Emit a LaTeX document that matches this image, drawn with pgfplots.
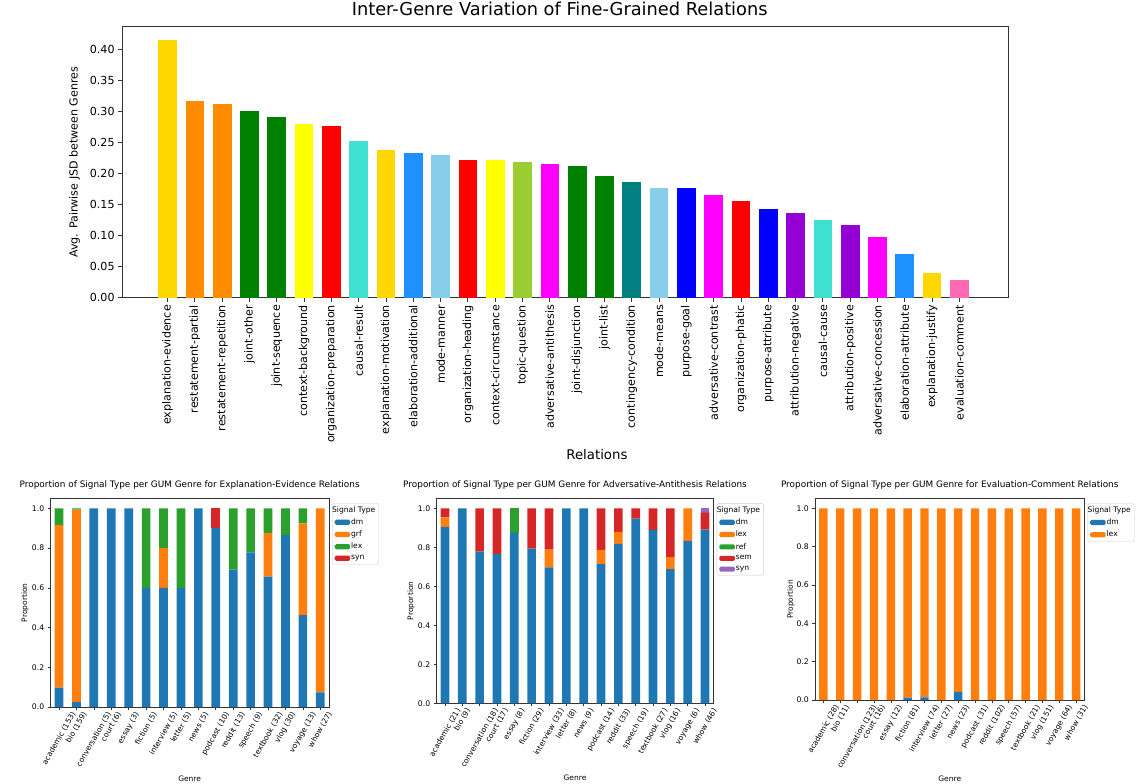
\documentclass[border=0pt]{standalone}
\usepackage{pgfplots}
\pgfplotsset{compat=1.18}
\usepackage{pgfplotstable}
\usepackage{graphicx}
\usepackage{fontspec}
\setmainfont{DejaVu Sans}

% bar colours of the relation chart
\definecolor{cGold}{RGB}{255,215,0}
\definecolor{cDarkOrange}{RGB}{255,140,0}
\definecolor{cGreen}{RGB}{0,128,0}
\definecolor{cYellow}{RGB}{255,255,0}
\definecolor{cRed}{RGB}{255,0,0}
\definecolor{cTurquoise}{RGB}{64,224,208}
\definecolor{cDodger}{RGB}{30,144,255}
\definecolor{cSky}{RGB}{135,206,235}
\definecolor{cYellowGreen}{RGB}{154,205,50}
\definecolor{cMagenta}{RGB}{255,0,255}
\definecolor{cTeal}{RGB}{0,128,128}
\definecolor{cBlue}{RGB}{0,0,255}
\definecolor{cViolet}{RGB}{148,0,211}
\definecolor{cHotPink}{RGB}{255,105,180}
% signal type colours
\definecolor{tabblue}{RGB}{31,119,180}
\definecolor{taborange}{RGB}{255,127,14}
\definecolor{tabgreen}{RGB}{44,160,44}
\definecolor{tabred}{RGB}{214,39,40}
\definecolor{tabpurple}{RGB}{148,103,189}

\newcommand{\rl}[1]{\rotatebox{60}{#1}}
\newcommand{\fs}[1]{\fontsize{#1}{#1}\selectfont}

% Explanation-Evidence: dm grf lex syn
\pgfplotstableread{
idx dm    grf   lex   syn
0   0.098 0.817 0.085 0
1   0.025 0.969 0.006 0
2   1     0     0     0
3   1     0     0     0
4   1     0     0     0
5   0.6   0     0.4   0
6   0.6   0.2   0.2   0
7   0.6   0     0.4   0
8   1     0     0     0
9   0.9   0     0     0.1
10  0.692 0     0.308 0
11  0.778 0     0.222 0
12  0.656 0.219 0.125 0
13  0.867 0     0.133 0
14  0.462 0.462 0.076 0
15  0.074 0.926 0     0
}\tabEvidence

% Adversative-Antithesis: dm lex ref sem syn
\pgfplotstableread{
idx dm    lex   ref   sem   syn
0   0.905 0.048 0     0.047 0
1   1     0     0     0     0
2   0.778 0     0     0.222 0
3   0.765 0     0     0.235 0
4   0.875 0     0.125 0     0
5   0.793 0     0     0.207 0
6   0.697 0.091 0     0.212 0
7   1     0     0     0     0
8   1     0     0     0     0
9   0.714 0.072 0     0.214 0
10  0.818 0.061 0     0.121 0
11  0.947 0     0     0.053 0
12  0.889 0     0     0.111 0
13  0.688 0.062 0     0.250 0
14  0.833 0.167 0     0     0
15  0.891 0     0     0.087 0.022
}\tabAntithesis

% Evaluation-Comment: dm lex
\pgfplotstableread{
idx dm    lex
0   0     1
1   0     1
2   0     1
3   0     1
4   0     1
5   0.012 0.988
6   0.014 0.986
7   0     1
8   0.043 0.957
9   0     1
10  0     1
11  0     1
12  0     1
13  0     1
14  0     1
15  0     1
}\tabComment

\pgfplotsset{
  sigpatch/.style={legend image code/.code={\fill[##1] (0pt,-2.6pt) rectangle (15.5pt,2.6pt);}},
  sigaxis/.style={
    scale only axis, anchor=south west,
    ybar stacked, xmin=-0.5, xmax=15.5, ymin=0, ymax=1.05,
    axis line style={black!80, line width=0.6pt},
    tick pos=left, tick align=outside, major tick length=2.6pt,
    tick style={black!80, line width=0.6pt},
    xtick={0,...,15},
    x tick label style={anchor=north, font=\fs{7.5}, inner sep=1.5pt},
    ytick={0,0.2,0.4,0.6,0.8,1},
    yticklabel={\pgfmathprintnumber[fixed,fixed zerofill,precision=1,assume math mode=true]{\tick}},
    y tick label style={font=\fs{7.7}},
    title style={anchor=center, font=\fs{8.9}},
    xlabel={Genre}, ylabel={Proportion},
    xlabel style={anchor=center, font=\fs{7.5}},
    ylabel style={anchor=center, font=\fs{7.5}},
    every axis plot/.append style={draw=none, sigpatch},
    legend style={at={(1,1)}, anchor=north west, xshift=3pt, yshift=-4.6pt,
      font=\fs{7.6}, draw=black!20, rounded corners=1.5pt, fill=white,
      inner xsep=2.5pt, inner ysep=2.2pt, row sep=3.2pt,
      nodes={inner sep=0.9pt}},
    legend cell align=left,
  },
}

\begin{document}
\begin{tikzpicture}
\path[use as bounding box] (0pt,0pt) rectangle (1138pt,-784pt);

% ---------------- average pairwise JSD per relation ----------------
\begin{axis}[
  at={(122pt,-297.7pt)}, anchor=south west,
  scale only axis, width=886pt, height=271pt,
  xmin=-1.67, xmax=30.78, ymin=0, ymax=0.4358,
  axis line style={black!80, line width=0.9pt},
  tick pos=left, tick align=outside, major tick length=3.9pt,
  tick style={black!80, line width=0.9pt},
  xtick={0,...,29},
  xticklabels={explanation-evidence, restatement-partial, restatement-repetition,
    joint-other, joint-sequence, context-background, organization-preparation,
    causal-result, explanation-motivation, elaboration-additional, mode-manner,
    organization-heading, context-circumstance, topic-question,
    adversative-antithesis, joint-disjunction, joint-list, contingency-condition,
    mode-means, purpose-goal, adversative-contrast, organization-phatic,
    purpose-attribute, attribution-negative, causal-cause, attribution-positive,
    adversative-concession, elaboration-attribute, explanation-justify,
    evaluation-comment},
  x tick label style={rotate=90, anchor=east, font=\fs{11.1}},
  ytick={0,0.05,0.1,0.15,0.2,0.25,0.3,0.35,0.4},
  yticklabel={\pgfmathprintnumber[fixed,fixed zerofill,precision=2,assume math mode=true]{\tick}},
  y tick label style={font=\fs{11.1}},
  title={Inter-Genre Variation of Fine-Grained Relations},
  title style={at={(axis description cs:0.494,1.043)}, anchor=center, font=\fs{17.8}},
  xlabel={Relations},
  xlabel style={at={(axis description cs:0.536,-0.580)}, anchor=center, font=\fs{13.3}},
  ylabel={Avg. Pairwise JSD between Genres},
  ylabel style={at={(axis description cs:-0.0534,0.5)}, anchor=center, font=\fs{11.1}},
  every axis plot/.append style={ybar, bar width=18.7pt, bar shift=0pt, draw=none},
]
\addplot[fill=cGold]        coordinates {(0,0.415)};
\addplot[fill=cDarkOrange]  coordinates {(1,0.316)};
\addplot[fill=cDarkOrange]  coordinates {(2,0.312)};
\addplot[fill=cGreen]       coordinates {(3,0.300)};
\addplot[fill=cGreen]       coordinates {(4,0.290)};
\addplot[fill=cYellow]      coordinates {(5,0.279)};
\addplot[fill=cRed]         coordinates {(6,0.276)};
\addplot[fill=cTurquoise]   coordinates {(7,0.252)};
\addplot[fill=cGold]        coordinates {(8,0.238)};
\addplot[fill=cDodger]      coordinates {(9,0.232)};
\addplot[fill=cSky]         coordinates {(10,0.229)};
\addplot[fill=cRed]         coordinates {(11,0.222)};
\addplot[fill=cYellow]      coordinates {(12,0.222)};
\addplot[fill=cYellowGreen] coordinates {(13,0.218)};
\addplot[fill=cMagenta]     coordinates {(14,0.215)};
\addplot[fill=cGreen]       coordinates {(15,0.211)};
\addplot[fill=cGreen]       coordinates {(16,0.196)};
\addplot[fill=cTeal]        coordinates {(17,0.186)};
\addplot[fill=cSky]         coordinates {(18,0.177)};
\addplot[fill=cBlue]        coordinates {(19,0.177)};
\addplot[fill=cMagenta]     coordinates {(20,0.165)};
\addplot[fill=cRed]         coordinates {(21,0.155)};
\addplot[fill=cBlue]        coordinates {(22,0.142)};
\addplot[fill=cViolet]      coordinates {(23,0.137)};
\addplot[fill=cTurquoise]   coordinates {(24,0.125)};
\addplot[fill=cViolet]      coordinates {(25,0.117)};
\addplot[fill=cMagenta]     coordinates {(26,0.098)};
\addplot[fill=cDodger]      coordinates {(27,0.070)};
\addplot[fill=cGold]        coordinates {(28,0.040)};
\addplot[fill=cHotPink]     coordinates {(29,0.029)};
\end{axis}

% ---------------- Explanation-Evidence ----------------
\begin{axis}[sigaxis,
  at={(50.3pt,-707pt)}, width=278.7pt, height=208.6pt, bar width=8.7pt,
  xticklabels={\rl{academic (153)}, \rl{bio (159)}, \rl{conversation (5)}, \rl{court (6)},
    \rl{essay (3)}, \rl{fiction (5)}, \rl{interview (5)}, \rl{letter (5)}, \rl{news (5)},
    \rl{podcast (10)}, \rl{reddit (13)}, \rl{speech (9)}, \rl{textbook (32)}, \rl{vlog (30)},
    \rl{voyage (13)}, \rl{whow (27)}},
  title={Proportion of Signal Type per GUM Genre for Explanation-Evidence Relations},
  title style={at={(axis description cs:0.5,1.037)}},
  xlabel style={at={(axis description cs:0.5,-0.342)}},
  ylabel style={at={(axis description cs:-0.0908,0.5)}},
]
\addlegendimage{empty legend}\addlegendentry{\hspace{-19pt}Signal Type}
\addplot[fill=tabblue]   table[x=idx,y=dm]  {\tabEvidence}; \addlegendentry{dm}
\addplot[fill=taborange] table[x=idx,y=grf] {\tabEvidence}; \addlegendentry{grf}
\addplot[fill=tabgreen]  table[x=idx,y=lex] {\tabEvidence}; \addlegendentry{lex}
\addplot[fill=tabred]    table[x=idx,y=syn] {\tabEvidence}; \addlegendentry{syn}
\end{axis}

% ---------------- Adversative-Antithesis ----------------
\begin{axis}[sigaxis,
  at={(436.3pt,-703.3pt)}, width=277.4pt, height=204.8pt, bar width=8.67pt,
  xticklabels={\rl{academic (21)}, \rl{bio (9)}, \rl{conversation (18)}, \rl{court (17)},
    \rl{essay (8)}, \rl{fiction (29)}, \rl{interview (33)}, \rl{letter (8)}, \rl{news (9)},
    \rl{podcast (14)}, \rl{reddit (33)}, \rl{speech (19)}, \rl{textbook (27)}, \rl{vlog (16)},
    \rl{voyage (6)}, \rl{whow (46)}},
  title={Proportion of Signal Type per GUM Genre for Adversative-Antithesis Relations},
  title style={at={(axis description cs:0.5,1.038)}},
  xlabel style={at={(axis description cs:0.5,-0.366)}},
  ylabel style={at={(axis description cs:-0.0912,0.5)}},
]
\addlegendimage{empty legend}\addlegendentry{\hspace{-19pt}Signal Type}
\addplot[fill=tabblue]   table[x=idx,y=dm]  {\tabAntithesis}; \addlegendentry{dm}
\addplot[fill=taborange] table[x=idx,y=lex] {\tabAntithesis}; \addlegendentry{lex}
\addplot[fill=tabgreen]  table[x=idx,y=ref] {\tabAntithesis}; \addlegendentry{ref}
\addplot[fill=tabred]    table[x=idx,y=sem] {\tabAntithesis}; \addlegendentry{sem}
\addplot[fill=tabpurple] table[x=idx,y=syn] {\tabAntithesis}; \addlegendentry{syn}
\end{axis}

% ---------------- Evaluation-Comment ----------------
\begin{axis}[sigaxis,
  at={(815pt,-700pt)}, width=269.5pt, height=201.3pt, bar width=8.4pt,
  xticklabels={\rl{academic (28)}, \rl{bio (11)}, \rl{conversation (123)}, \rl{court (16)},
    \rl{essay (12)}, \rl{fiction (81)}, \rl{interview (74)}, \rl{letter (27)}, \rl{news (23)},
    \rl{podcast (31)}, \rl{reddit (102)}, \rl{speech (57)}, \rl{textbook (21)}, \rl{vlog (151)},
    \rl{voyage (64)}, \rl{whow (31)}},
  title={Proportion of Signal Type per GUM Genre for Evaluation-Comment Relations},
  title style={at={(axis description cs:0.5,1.040)}},
  xlabel style={at={(axis description cs:0.5,-0.389)}},
  ylabel style={at={(axis description cs:-0.090,0.5)}},
]
\addlegendimage{empty legend}\addlegendentry{\hspace{-19pt}Signal Type}
\addplot[fill=tabblue]   table[x=idx,y=dm]  {\tabComment}; \addlegendentry{dm}
\addplot[fill=taborange] table[x=idx,y=lex] {\tabComment}; \addlegendentry{lex}
\end{axis}
\end{tikzpicture}
\end{document}
